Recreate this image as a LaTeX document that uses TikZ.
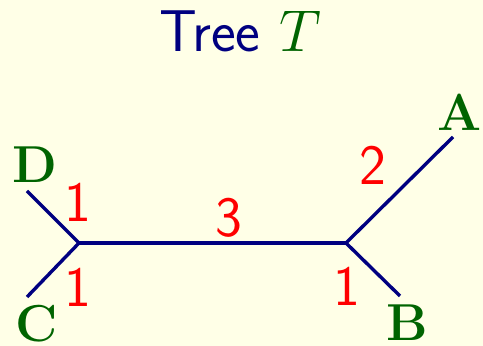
\documentclass[tikz,border=0pt]{standalone}
\usepackage{fix-cm}
\usepackage{fontspec}
\usetikzlibrary{positioning}
\definecolor{trNavy}{RGB}{0,0,128}
\definecolor{trGreen}{RGB}{0,100,0}
\definecolor{trRed}{RGB}{255,0,0}
\definecolor{trBack}{RGB}{255,255,231}

\begin{document}
\begin{tikzpicture}[
    x=0.5pt, y=0.5pt,
    branch/.style={draw=trNavy, line width=1.7pt},
    title node/.style={text=trNavy, font=\fontsize{29.5}{32}\selectfont\sffamily, inner sep=0pt, anchor=base},
    leaf label/.style={text=trGreen, font=\fontsize{26}{28}\selectfont\bfseries, inner sep=0pt},
    weight label/.style={text=trRed, font=\fontsize{28.5}{30}\selectfont\sffamily, inner sep=0pt}
]
  \fill[trBack] (0,0) rectangle (483,346);
  \useasboundingbox (0,0) rectangle (483,346);

  \node[title node] (title) at (240,294) {Tree \textcolor{trGreen}{$T$}};

  % inner vertices and leaf ends
  \coordinate (left) at (79,103);
  \coordinate (right) at (346,103);
  \coordinate (dEnd) at (27,155);
  \coordinate (cEnd) at (27,49);
  \coordinate (aEnd) at (453,209);
  \coordinate (bEnd) at (400,50);

  \node[leaf label] (dLeaf) at (35,181) {D};
  \node[leaf label] (cLeaf) at (37,22) {C};
  \node[leaf label] (aLeaf) at (460,234) {A};
  \node[leaf label] (bLeaf) at (407,23) {B};

  \draw[branch] (dEnd) -- (left) -- (cEnd);
  \draw[branch] (left) -- (right);
  \draw[branch] (aEnd) -- (right) -- (bEnd);

  \node[weight label] (dWeight) at (78,144) {1};
  \node[weight label] (cWeight) at (78,59) {1};
  \node[weight label] (midWeight) at (229,128) {3};
  \node[weight label] (aWeight) at (373,181) {2};
  \node[weight label] (bWeight) at (347,60) {1};
\end{tikzpicture}
\end{document}
